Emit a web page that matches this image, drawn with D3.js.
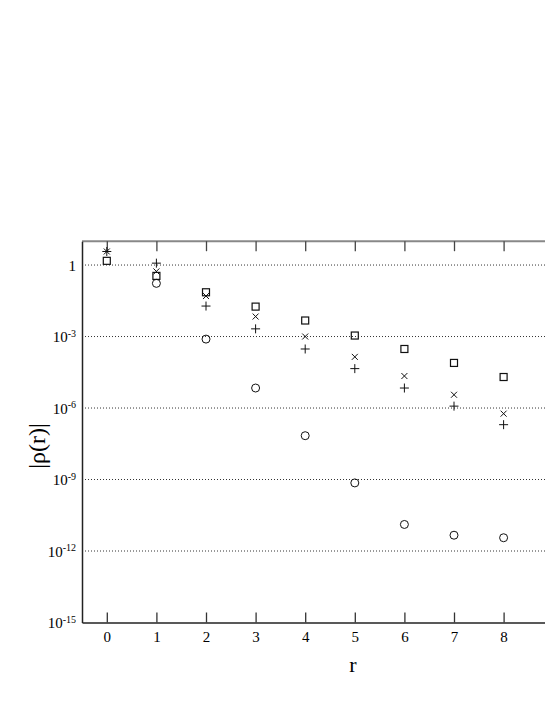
<!DOCTYPE html>
<html>
<head>
<meta charset="utf-8">
<script src="https://cdn.jsdelivr.net/npm/d3@7"></script>
<style>
  body { margin: 0; background: #fff; }
  text { font-family: "Liberation Serif", "DejaVu Serif", serif; fill: #000; }
</style>
</head>
<body>
<div id="chart"></div>
<script>
const rValues = [0, 1, 2, 3, 4, 5, 6, 7, 8];
const plusValues = [3.7, 1.2, 1.9e-2, 2.1e-3, 3.0e-4, 4.5e-5, 6.9e-6, 1.2e-6, 2.0e-7];
const crossValues = [3.7, 0.54, 5.0e-2, 6.9e-3, 1.0e-3, 1.4e-4, 2.2e-5, 3.6e-6, 5.8e-7];
const squareValues = [1.5, 0.35, 7.2e-2, 1.8e-2, 4.7e-3, 1.1e-3, 3.0e-4, 7.8e-5, 2.0e-5];
const circleValues = [null, 0.17, 7.8e-4, 6.9e-6, 6.9e-8, 7.2e-10, 1.3e-11, 4.6e-12, 3.6e-12];
const yTickExps = [0, -3, -6, -9, -12, -15];

const width = 545, height = 705;
const plotLeft = 82, plotTop = 241.2, plotBottom = 622.5;
const serif = "'Liberation Serif', 'DejaVu Serif', serif";

const svg = d3.select("#chart")
  .append("svg")
  .attr("width", width)
  .attr("height", height);

const x = d3.scaleLinear()
  .domain([-0.5, 9])
  .range([plotLeft, plotLeft + 9.5 * 49.6]);

const y = d3.scaleLog()
  .domain([1e-15, 10])
  .range([plotBottom, plotTop]);

// dotted grid lines
svg.append("g")
  .selectAll("line")
  .data(yTickExps.filter(e => e > -15))
  .join("line")
  .attr("x1", plotLeft)
  .attr("x2", width)
  .attr("y1", e => y(Math.pow(10, e)))
  .attr("y2", e => y(Math.pow(10, e)))
  .attr("stroke", "#333")
  .attr("stroke-width", 1)
  .attr("stroke-dasharray", "1,2");

// top frame line
svg.append("line")
  .attr("x1", plotLeft).attr("x2", width + 10)
  .attr("y1", y(10)).attr("y2", y(10))
  .attr("stroke", "#888").attr("stroke-width", 2);

const xAxis = svg.append("g")
  .attr("transform", `translate(0,${plotBottom})`)
  .call(d3.axisBottom(x)
    .tickValues(rValues)
    .tickSizeInner(-10)
    .tickSizeOuter(0)
    .tickPadding(9)
    .tickFormat(d3.format("d")))
  .attr("font-family", serif);
xAxis.select(".domain").attr("stroke", "#222").attr("stroke-width", 1.5);
xAxis.selectAll(".tick line").attr("stroke", "#333").attr("stroke-width", 1.3);
xAxis.selectAll("text").style("font-size", "15px").attr("fill", "#000");

const xTop = svg.append("g")
  .attr("transform", `translate(0,${y(10)})`)
  .call(d3.axisTop(x)
    .tickValues(rValues)
    .tickSizeInner(-10)
    .tickSizeOuter(0)
    .tickFormat(""));
xTop.select(".domain").remove();
xTop.selectAll(".tick line").attr("stroke", "#444").attr("stroke-width", 1.3);

const yAxis = svg.append("g")
  .attr("transform", `translate(${plotLeft},0)`)
  .call(d3.axisLeft(y)
    .tickValues(yTickExps.map(e => Math.pow(10, e)))
    .tickSize(0)
    .tickPadding(6)
    .tickFormat(""))
  .attr("font-family", serif);
yAxis.select(".domain").attr("stroke", "#222").attr("stroke-width", 1.5);

yAxis.selectAll(".tick").each(function (d, i) {
  const e = yTickExps[i];
  const t = d3.select(this).select("text")
    .style("font-size", "15px")
    .attr("dy", "0.35em")
    .attr("fill", "#000");
  if (e === 0) {
    t.text("1");
  } else {
    t.append("tspan").text("10");
    t.append("tspan")
      .attr("dy", "-0.55em")
      .style("font-size", "10px")
      .text(String(e));
  }
});

// markers
const pts = (vals) => rValues.map((r, i) => ({ r, v: vals[i] })).filter(d => d.v != null);
const ink = "#111";

svg.append("g")
  .selectAll("circle")
  .data(pts(circleValues))
  .join("circle")
  .attr("cx", d => x(d.r))
  .attr("cy", d => y(d.v))
  .attr("r", 4)
  .attr("fill", "none")
  .attr("stroke", ink)
  .attr("stroke-width", 1);

svg.append("g")
  .selectAll("rect")
  .data(pts(squareValues))
  .join("rect")
  .attr("x", d => x(d.r) - 3.5)
  .attr("y", d => y(d.v) - 3.5)
  .attr("width", 7)
  .attr("height", 7)
  .attr("fill", "none")
  .attr("stroke", ink)
  .attr("stroke-width", 1.2);

svg.append("g")
  .selectAll("path")
  .data(pts(crossValues))
  .join("path")
  .attr("transform", d => `translate(${x(d.r)},${y(d.v)})`)
  .attr("d", "M-3,-3L3,3M-3,3L3,-3")
  .attr("stroke", ink)
  .attr("stroke-width", 1);

svg.append("g")
  .selectAll("path")
  .data(pts(plusValues))
  .join("path")
  .attr("transform", d => `translate(${x(d.r)},${y(d.v)})`)
  .attr("d", "M-4.5,0L4.5,0M0,-4.5L0,4.5")
  .attr("stroke", ink)
  .attr("stroke-width", 1);

// axis titles
svg.append("text")
  .attr("x", 353)
  .attr("y", 672)
  .attr("text-anchor", "middle")
  .style("font-size", "22px")
  .text("r");

svg.append("text")
  .attr("transform", "translate(45,446) rotate(-90)")
  .attr("text-anchor", "middle")
  .style("font-size", "24px")
  .text("|ρ(r)|");
</script>
</body>
</html>
